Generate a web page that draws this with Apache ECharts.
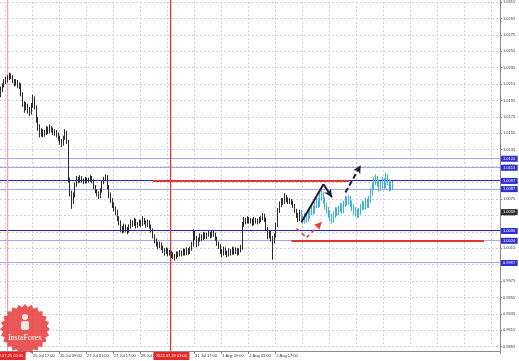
<!DOCTYPE html>
<html><head><meta charset="utf-8">
<script src="https://cdn.jsdelivr.net/npm/echarts@6/dist/echarts.min.js"></script>
<style>html,body{margin:0;padding:0;background:#fff}#c{width:519px;height:361px}</style>
</head><body><div id="c"></div>
<script>
const barCount = 296;
const firstOpen = 1.0203;
const closes = [
1.0208,1.0213,1.0218,1.0220,1.0222,1.0225,1.0224,1.0219,1.0215,1.0218,
1.0213,1.0214,1.0203,1.0191,1.0186,1.0189,1.0184,1.0181,1.0189,1.0198,
1.0187,1.0172,1.0163,1.0155,1.0157,1.0154,1.0156,1.0160,1.0157,1.0161,
1.0159,1.0156,1.0157,1.0154,1.0150,1.0145,1.0142,1.0149,1.0156,1.0145,
1.0099,1.0083,1.0071,1.0079,1.0092,1.0099,1.0097,1.0101,1.0098,1.0096,
1.0099,1.0097,1.0098,1.0101,1.0097,1.0090,1.0085,1.0081,1.0078,1.0085,
1.0095,1.0099,1.0102,1.0090,1.0080,1.0073,1.0068,1.0063,1.0059,1.0051,
1.0047,1.0039,1.0037,1.0042,1.0038,1.0036,1.0041,1.0047,1.0044,1.0049,
1.0042,1.0044,1.0047,1.0044,1.0050,1.0047,1.0043,1.0047,1.0042,1.0037,
1.0030,1.0025,1.0020,1.0018,1.0020,1.0016,1.0013,1.0010,1.0013,1.0009,
1.0010,1.0007,1.0006,1.0004,1.0008,1.0007,1.0010,1.0008,1.0012,1.0009,
1.0013,1.0010,1.0014,1.0019,1.0034,1.0028,1.0020,1.0025,1.0030,1.0027,
1.0032,1.0028,1.0031,1.0033,1.0030,1.0034,1.0032,1.0027,1.0021,1.0018,
1.0012,1.0008,1.0014,1.0010,1.0008,1.0012,1.0009,1.0014,1.0010,1.0013,
1.0009,1.0012,1.0015,1.0043,1.0049,1.0047,1.0051,1.0048,1.0049,1.0045,
1.0050,1.0048,1.0047,1.0050,1.0051,1.0055,1.0050,1.0039,1.0030,1.0034,
1.0027,1.0025,1.0030,1.0043,1.0061,1.0068,1.0073,1.0071,1.0078,1.0074,
1.0072,1.0073,1.0071,1.0067,1.0061,1.0056,1.0051,1.0059];
const highs = [
1.0212,1.0216,1.0221,1.0224,1.0226,1.0229,1.0228,1.0226,1.0221,1.0221,
1.0220,1.0217,1.0216,1.0205,1.0194,1.0193,1.0191,1.0187,1.0192,1.0202,
1.0200,1.0189,1.0175,1.0166,1.0161,1.0160,1.0159,1.0164,1.0163,1.0166,
1.0164,1.0162,1.0160,1.0159,1.0156,1.0152,1.0148,1.0152,1.0160,1.0158,
1.0147,1.0101,1.0085,1.0083,1.0095,1.0103,1.0102,1.0104,1.0103,1.0100,
1.0102,1.0101,1.0101,1.0104,1.0103,1.0099,1.0092,1.0087,1.0084,1.0088,
1.0098,1.0102,1.0105,1.0104,1.0092,1.0083,1.0076,1.0071,1.0066,1.0062,
1.0054,1.0049,1.0042,1.0045,1.0044,1.0041,1.0044,1.0050,1.0049,1.0052,
1.0051,1.0047,1.0050,1.0049,1.0054,1.0052,1.0049,1.0050,1.0049,1.0044,
1.0039,1.0032,1.0027,1.0023,1.0023,1.0022,1.0018,1.0015,1.0016,1.0015,
1.0013,1.0012,1.0010,1.0008,1.0011,1.0011,1.0013,1.0012,1.0015,1.0014,
1.0016,1.0015,1.0017,1.0023,1.0038,1.0036,1.0030,1.0028,1.0033,1.0032,
1.0035,1.0034,1.0034,1.0036,1.0035,1.0037,1.0036,1.0034,1.0029,1.0023,
1.0020,1.0014,1.0017,1.0016,1.0012,1.0015,1.0014,1.0017,1.0016,1.0016,
1.0015,1.0015,1.0019,1.0047,1.0053,1.0052,1.0054,1.0053,1.0052,1.0051,
1.0053,1.0052,1.0051,1.0053,1.0054,1.0058,1.0057,1.0052,1.0041,1.0037,
1.0036,1.0030,1.0033,1.0046,1.0064,1.0072,1.0076,1.0076,1.0082,1.0080,
1.0077,1.0076,1.0075,1.0073,1.0069,1.0063,1.0058,1.0062];
const lows = [
1.0199,1.0205,1.0211,1.0215,1.0217,1.0220,1.0221,1.0216,1.0212,1.0213,
1.0210,1.0209,1.0200,1.0187,1.0180,1.0183,1.0179,1.0176,1.0178,1.0186,
1.0184,1.0168,1.0158,1.0150,1.0151,1.0150,1.0151,1.0153,1.0154,1.0155,
1.0156,1.0153,1.0152,1.0150,1.0146,1.0141,1.0138,1.0140,1.0147,1.0142,
1.0095,1.0078,1.0063,1.0069,1.0077,1.0090,1.0094,1.0095,1.0095,1.0093,
1.0094,1.0094,1.0095,1.0096,1.0094,1.0087,1.0082,1.0078,1.0075,1.0076,
1.0083,1.0093,1.0097,1.0087,1.0076,1.0070,1.0064,1.0060,1.0055,1.0048,
1.0043,1.0035,1.0033,1.0034,1.0035,1.0032,1.0034,1.0039,1.0041,1.0042,
1.0039,1.0040,1.0042,1.0041,1.0042,1.0044,1.0040,1.0041,1.0039,1.0034,
1.0027,1.0021,1.0017,1.0014,1.0015,1.0013,1.0009,1.0006,1.0008,1.0005,
1.0006,1.0003,1.0002,1.0000,1.0002,1.0004,1.0005,1.0005,1.0006,1.0006,
1.0007,1.0007,1.0008,1.0012,1.0017,1.0025,1.0016,1.0018,1.0023,1.0024,
1.0025,1.0026,1.0026,1.0029,1.0027,1.0028,1.0029,1.0024,1.0018,1.0014,
1.0008,1.0004,1.0006,1.0007,1.0004,1.0005,1.0006,1.0007,1.0007,1.0008,
1.0006,1.0007,1.0010,1.0013,1.0041,1.0044,1.0045,1.0045,1.0045,1.0042,
1.0043,1.0045,1.0044,1.0045,1.0047,1.0049,1.0047,1.0036,1.0026,1.0027,
1.0023,1.0001,1.0021,1.0028,1.0041,1.0058,1.0065,1.0068,1.0069,1.0071,
1.0069,1.0069,1.0068,1.0064,1.0058,1.0052,1.0047,1.0048];
const fcClose = [
1.0051,1.0049,1.0054,1.0050,1.0055,1.0059,1.0063,1.0061,1.0068,1.0072,
1.0069,1.0077,1.0080,1.0074,1.0067,1.0062,1.0057,1.0053,1.0050,1.0056,
1.0061,1.0059,1.0063,1.0066,1.0062,1.0069,1.0074,1.0072,1.0075,1.0069,
1.0065,1.0061,1.0059,1.0056,1.0060,1.0065,1.0068,1.0066,1.0071,1.0068,
1.0074,1.0083,1.0090,1.0096,1.0099,1.0095,1.0089,1.0092,1.0097,1.0091,
1.0102,1.0096,1.0088,1.0094,1.0090];
const fcHigh = [
1.0062,1.0055,1.0058,1.0058,1.0059,1.0063,1.0068,1.0067,1.0072,1.0077,
1.0076,1.0082,1.0086,1.0084,1.0077,1.0070,1.0065,1.0061,1.0057,1.0060,
1.0065,1.0065,1.0067,1.0070,1.0070,1.0073,1.0079,1.0078,1.0080,1.0079,
1.0073,1.0069,1.0065,1.0063,1.0064,1.0069,1.0073,1.0072,1.0076,1.0075,
1.0079,1.0088,1.0095,1.0101,1.0105,1.0103,1.0098,1.0097,1.0102,1.0100,
1.0107,1.0105,1.0099,1.0098,1.0097];
const fcLow = [
1.0046,1.0044,1.0045,1.0046,1.0047,1.0051,1.0055,1.0056,1.0057,1.0064,
1.0064,1.0065,1.0073,1.0069,1.0062,1.0057,1.0052,1.0048,1.0045,1.0046,
1.0052,1.0054,1.0055,1.0059,1.0057,1.0058,1.0065,1.0067,1.0068,1.0065,
1.0060,1.0056,1.0054,1.0052,1.0052,1.0056,1.0061,1.0062,1.0062,1.0064,
1.0064,1.0070,1.0079,1.0086,1.0092,1.0090,1.0084,1.0085,1.0088,1.0087,
1.0088,1.0092,1.0084,1.0085,1.0086];
const timeLabelIdx = [19,35,51,67,83,115,131,147,163];
const timeLabels = ['25 Jul 17:00','26 Jul 09:00','27 Jul 01:00','27 Jul 17:00','28 Jul 09:00','31 Jul 17:00','1 Aug 09:00','2 Aug 01:00','2 Aug 17:00'];
const priceMin = 0.9895, priceMax = 1.0315, priceStep = 0.002;
const levelsMajor = [1.0097, 1.0036];
const levelsMinor = [1.0124, 1.0113, 1.0087, 1.0024, 0.9997];
const bidPrice = 1.0059;
const redSegments = [[90, 206, 1.0097], [172, 286, 1.0024]];
const sepLeft = [4, '2022.07.25 02:00'];
const sepRight = [101, '2022.07.29 03:00'];
const trendSolid = [[178, 1.0047], [191, 1.0093], [196, 1.0077]];
const trendDashed = [[204, 1.0083], [213, 1.0116]];
const redPath = [[175, 1.0039], [181, 1.0028], [190, 1.0047]];

const cats = Array.from({length: barCount}, (_, i) => String(i));
const realData = closes.map((c, i) => [i, i ? closes[i - 1] : firstOpen, c, lows[i], highs[i]]);
const fcData = fcClose.map((c, k) => [closes.length + k, k ? fcClose[k - 1] : closes[closes.length - 1], c, fcLow[k], fcHigh[k]]);

const FONT = 'Liberation Sans';
const lastIdx = barCount - 1;
function pair(p0, p1, endSymbol) {
  return [{coord: p0, symbol: 'none'}, {coord: p1, symbol: endSymbol || 'none', symbolSize: [6, 8]}];
}
function pathPairs(pts) {
  const out = [];
  for (let k = 0; k < pts.length - 1; k++) out.push(pair(pts[k], pts[k + 1], k === pts.length - 2 ? 'arrow' : 'none'));
  return out;
}
function lineGroup(name, data, style) {
  return {type: 'line', name: name, data: [], silent: true,
    markLine: {silent: true, symbol: ['none', 'none'], label: {show: false}, emphasis: {disabled: true},
      lineStyle: style, data: data}};
}

const mp = [];
const priceBox = (v, bg) => ({coord: [lastIdx, v], symbol: 'rect', symbolSize: [17, 6], symbolOffset: [10, 0],
  itemStyle: {color: bg}, label: {show: true, position: 'inside', formatter: v.toFixed(4), fontSize: 4, color: '#fff', fontFamily: FONT}});
levelsMinor.concat(levelsMajor).forEach(v => mp.push(priceBox(v, '#2f2fd2')));
mp.push(priceBox(bidPrice, '#2e2e2e'));

const seal = [];
for (let k = 0; k < 48; k++) { const r = k % 2 ? 22 : 25; const a = k * Math.PI / 24; seal.push([25 + r * Math.cos(a), 329 + r * Math.sin(a)]); }

const chart = echarts.init(document.getElementById('c'), null, {renderer: 'canvas'});
chart.setOption({
  animation: false,
  backgroundColor: '#ffffff',
  grid: {left: 0, right: 19, top: -1, bottom: 14.3, containLabel: false},
  xAxis: {type: 'category', data: cats, boundaryGap: true, offset: 5,
    axisLine: {show: true, lineStyle: {color: '#8a8a8a', width: 1}},
    axisTick: {show: true, length: 2, interval: (i) => timeLabelIdx.includes(i), lineStyle: {color: '#777'}},
    axisLabel: {show: true, interval: (i) => timeLabelIdx.includes(i), formatter: (v, i) => timeLabels[timeLabelIdx.indexOf(i)] || '',
      fontSize: 4, color: '#333', align: 'left', margin: 2, fontFamily: FONT},
    splitLine: {show: true, interval: (i) => (i % 16) === 3, lineStyle: {color: '#d2d2d2', width: 1, type: [2, 2]}}},
  yAxis: {type: 'value', position: 'right', min: priceMin, max: priceMax, interval: priceStep,
    axisLine: {show: false}, axisTick: {show: true, length: 2, lineStyle: {color: '#777'}},
    axisLabel: {fontSize: 4, color: '#333', margin: 3, formatter: v => v.toFixed(4), fontFamily: FONT},
    splitLine: {show: true, lineStyle: {color: '#d2d2d2', width: 1, type: [2, 2]}}},
  series: [
    lineGroup('red levels', redSegments.map(([a, b, v]) => pair([a, v], [b, v])), {color: '#e23636', width: 1.8, type: 'solid'}),
    {type: 'candlestick', name: 'EURUSD', data: realData, encode: {x: 0, y: [1, 2, 3, 4]}, barWidth: 1,
      itemStyle: {color: '#2b2b2b', color0: '#2b2b2b', borderColor: '#2b2b2b', borderColor0: '#2b2b2b', borderWidth: 1},
      markPoint: {silent: true, emphasis: {disabled: true}, data: mp}},
    {type: 'candlestick', name: 'forecast', data: fcData, encode: {x: 0, y: [1, 2, 3, 4]}, barWidth: 1,
      itemStyle: {color: '#3cb3d6', color0: '#3cb3d6', borderColor: '#3cb3d6', borderColor0: '#3cb3d6', borderWidth: 1}},
    lineGroup('trend solid', pathPairs(trendSolid), {color: '#1b1b3a', width: 2, type: 'solid'}),
    lineGroup('trend dashed', pathPairs(trendDashed), {color: '#1b1b3a', width: 2, type: [5, 3]}),
    lineGroup('red path', pathPairs(redPath), {color: '#e0403a', width: 1.5, type: [4, 3]})
  ]
});

// full-width level lines and period separators, positioned through the chart's own scales
const px = (i, v) => chart.convertToPixel({xAxisIndex: 0, yAxisIndex: 0}, [i, v]);
const crisp = (p) => Math.round(p - 0.5) + 0.5;
const gfx = [];
const plotRight = px(lastIdx, priceMin)[0] + 0.85;
levelsMinor.forEach(v => { const y = crisp(px(0, v)[1]);
  gfx.push({type: 'line', z: 1, silent: true, shape: {x1: 0, y1: y, x2: plotRight, y2: y}, style: {stroke: '#a6a6e8', lineWidth: 1}}); });
levelsMajor.forEach(v => { const y = crisp(px(0, v)[1]);
  gfx.push({type: 'line', z: 1, silent: true, shape: {x1: 0, y1: y, x2: plotRight, y2: y}, style: {stroke: '#2424d0', lineWidth: 1.2}}); });
[[sepLeft, '#f4a4a4'], [sepRight, '#ee2b2b']].forEach(([[idx, txt], col]) => {
  const x = px(idx, priceMin)[0];
  gfx.push({type: 'rect', z: 1, silent: true, shape: {x: Math.round(x) - 1, y: 0, width: 1.2, height: 351}, style: {fill: col}});
  gfx.push({type: 'rect', z: 60, silent: true, shape: {x: x - 18, y: 352, width: 36, height: 8}, style: {fill: '#e8262a'}});
  gfx.push({type: 'text', z: 61, silent: true, x: x, y: 356, style: {text: txt, fill: '#fff', font: '4px "Liberation Sans"', align: 'center', verticalAlign: 'middle'}});
});
gfx.push({type: 'line', z: 50, silent: true, shape: {x1: 500.5, y1: 0, x2: 500.5, y2: 352}, style: {stroke: '#8a8a8a', lineWidth: 1}});
gfx.push({type: 'polygon', z: 100, silent: true, shape: {points: seal}, style: {fill: 'rgba(230,58,58,0.85)'}});
gfx.push({type: 'circle', z: 101, silent: true, shape: {cx: 25, cy: 317, r: 3}, style: {fill: 'rgba(255,255,255,0.85)'}});
gfx.push({type: 'rect', z: 101, silent: true, shape: {x: 21, y: 321, width: 8, height: 9, r: 2}, style: {fill: 'rgba(255,255,255,0.85)'}});
gfx.push({type: 'text', z: 101, silent: true, x: 25, y: 338, style: {text: 'InstaForex', fill: '#fff', font: '8px "Liberation Serif"', align: 'center', verticalAlign: 'middle'}});
chart.setOption({graphic: gfx});
</script></body></html>
